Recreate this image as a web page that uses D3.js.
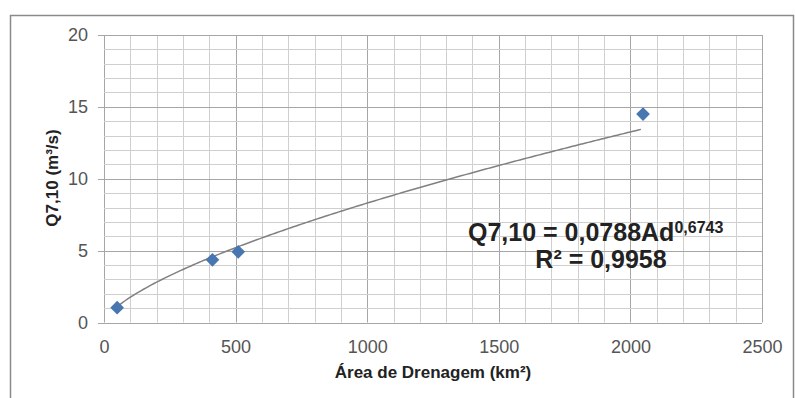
<!DOCTYPE html>
<html><head><meta charset="utf-8">
<script src="https://cdn.jsdelivr.net/npm/d3@7"></script>
<style>body{margin:0;background:#fff}svg{display:block}</style>
</head><body>
<svg id="c" width="795" height="398"></svg>
<script>
const areas = [50, 412, 510, 2048];
const q710 = [1.03, 4.36, 4.92, 14.5];
const xTicks = [0, 500, 1000, 1500, 2000, 2500];
const yTicks = [0, 5, 10, 15, 20];
const fitCoef = 0.0788, fitExp = 0.6743;
const eqText = "Q7,10 = 0,0788Ad", eqSup = "0,6743", r2Text = "R² = 0,9958";
const xTitle = "Área de Drenagem (km²)", yTitle = "Q7,10 (m³/s)";

const svg = d3.select("#c");
const L = 104, R = 762, T = 35, B = 322.5;
const x = d3.scaleLinear().domain([0, 2500]).range([L, R]);
const y = d3.scaleLinear().domain([0, 20]).range([B, T]);
const font = "'Liberation Sans', Arial, sans-serif";

// frame
svg.append("path").attr("d", `M10.5,398 V15.5 H793.5 V398`).attr("fill", "none")
  .attr("stroke", "#8a8a8a").attr("stroke-width", 1.5);

// grid
const g = svg.append("g");
g.selectAll(".vx").data(d3.range(0, 2501, 100)).join("line")
  .attr("x1", d => Math.round(x(d)) + 0.5).attr("x2", d => Math.round(x(d)) + 0.5)
  .attr("y1", T).attr("y2", B)
  .attr("stroke", d => d % 500 === 0 ? "#a6a6a6" : "#cfcfcf").attr("stroke-width", 1);
g.selectAll(".hy").data(d3.range(0, 20.1, 1)).join("line")
  .attr("y1", d => Math.round(y(d)) + 0.5).attr("y2", d => Math.round(y(d)) + 0.5)
  .attr("x2", R)
  .attr("stroke", d => d % 5 === 0 ? "#a6a6a6" : "#cfcfcf").attr("stroke-width", 1)
  .attr("x1", d => d % 5 === 0 ? L - 6 : L);

// axes labels
const xa = svg.append("g").attr("transform", `translate(0,${B})`)
  .call(d3.axisBottom(x).tickValues(xTicks).tickFormat(d3.format("d")).tickSize(0).tickPadding(18));
xa.select(".domain").remove();
xa.selectAll("text").attr("font-family", font).attr("font-size", 18).attr("fill", "#555");
const ya = svg.append("g").attr("transform", `translate(${L},0)`)
  .call(d3.axisLeft(y).tickValues(yTicks).tickFormat(d3.format("d")).tickSize(0).tickPadding(16));
ya.select(".domain").remove();
ya.selectAll("text").attr("font-family", font).attr("font-size", 18).attr("fill", "#555");

// trendline
const xs = d3.range(areas[0], areas[areas.length - 1] + 1, 10);
svg.append("path").datum(xs)
  .attr("d", d3.line().x(d => x(d)).y(d => y(fitCoef * Math.pow(d, fitExp))))
  .attr("fill", "none").attr("stroke", "#808080").attr("stroke-width", 1.5);

// points
svg.selectAll(".pt").data(areas).join("path")
  .attr("d", d3.symbol(d3.symbolDiamond2, 120)())
  .attr("transform", (d, i) => `translate(${x(d)},${y(q710[i])})`)
  .attr("fill", "#4776b0");

// titles
svg.append("text").attr("x", 433).attr("y", 378).attr("text-anchor", "middle")
  .attr("font-family", font).attr("font-weight", "bold").attr("font-size", 17)
  .attr("fill", "#222").text(xTitle);
svg.append("text").attr("transform", "translate(58,178) rotate(-90)").attr("text-anchor", "middle")
  .attr("font-family", font).attr("font-weight", "bold").attr("font-size", 17)
  .attr("fill", "#222").text(yTitle);

// equation
const eq = svg.append("text").attr("x", 468).attr("y", 241)
  .attr("font-family", font).attr("font-weight", "bold").attr("font-size", 25).attr("fill", "#222");
eq.append("tspan").text(eqText);
eq.append("tspan").attr("dy", -8).attr("font-size", 16).text(eqSup);
svg.append("text").attr("x", 601).attr("y", 268).attr("text-anchor", "middle")
  .attr("font-family", font).attr("font-weight", "bold").attr("font-size", 25).attr("fill", "#222")
  .text(r2Text);
</script>
</body></html>
